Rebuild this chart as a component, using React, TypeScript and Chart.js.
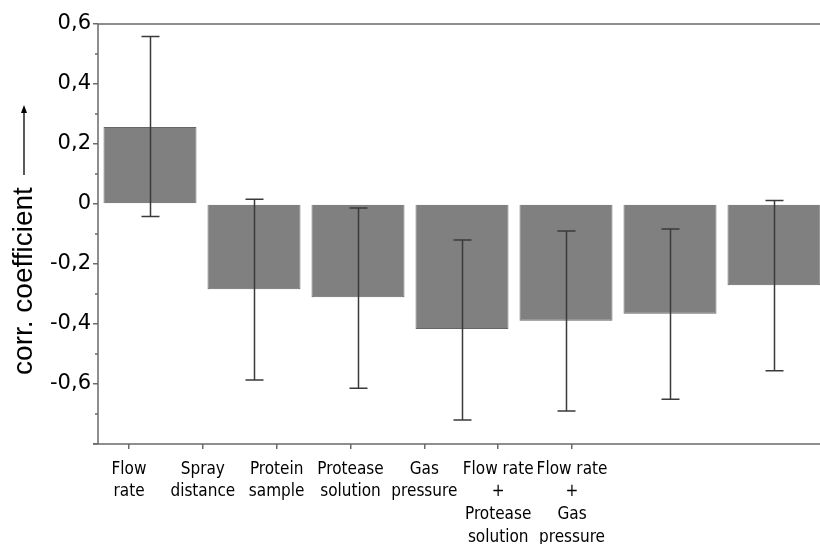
import { useEffect, useRef } from 'react';
import { Chart, registerables } from 'chart.js';

Chart.register(...registerables);

const categories: string[][] = [
  ['Flow', 'rate'],
  ['Spray', 'distance'],
  ['Protein', 'sample'],
  ['Protease', 'solution'],
  ['Gas', 'pressure'],
  ['Flow rate', '+', 'Protease', 'solution'],
  ['Flow rate', '+', 'Gas', 'pressure'],
];
const coefficients = [0.257, -0.284, -0.311, -0.417, -0.389, -0.366, -0.271];
const errorHigh = [0.558, 0.016, -0.013, -0.12, -0.09, -0.083, 0.012];
const errorLow = [-0.042, -0.587, -0.614, -0.72, -0.69, -0.651, -0.556];
const yTickValues = [0.6, 0.4, 0.2, 0, -0.2, -0.4, -0.6, -0.8];
const yTickLabels = ['0,6', '0,4', '0,2', '0', '-0,2', '-0,4', '-0,6', ''];
const yMinorTicks = [0.5, 0.3, 0.1, -0.1, -0.3, -0.5, -0.7];
const yTitle = 'corr. coefficient';

const AXIS = '#6a6a6a';

const decorPlugin = {
  id: 'decor',
  afterDatasetsDraw(chart: any) {
    const { ctx, scales } = chart;
    const y = scales.y;
    const meta = chart.getDatasetMeta(0);
    ctx.save();
    ctx.strokeStyle = '#3a3a3a';
    ctx.lineWidth = 1.5;
    meta.data.forEach((bar: any, i: number) => {
      const x = Math.round(bar.x) + 0.5;
      const yh = y.getPixelForValue(errorHigh[i]);
      const yl = y.getPixelForValue(errorLow[i]);
      ctx.beginPath();
      ctx.moveTo(x, yh);
      ctx.lineTo(x, yl);
      ctx.stroke();
      ctx.beginPath();
      ctx.moveTo(x - 9, yh);
      ctx.lineTo(x + 9, yh);
      ctx.moveTo(x - 9, yl);
      ctx.lineTo(x + 9, yl);
      ctx.stroke();
    });
    ctx.restore();
  },
  afterDraw(chart: any) {
    const { ctx, chartArea, scales } = chart;
    const y = scales.y;
    const { left, right, top, bottom } = chartArea;
    ctx.save();
    ctx.strokeStyle = AXIS;
    ctx.lineWidth = 1.5;
    ctx.beginPath();
    ctx.moveTo(left, top);
    ctx.lineTo(right, top);
    ctx.moveTo(left, top);
    ctx.lineTo(left, bottom);
    ctx.moveTo(left - 5, bottom);
    ctx.lineTo(right, bottom);
    yMinorTicks.forEach((v) => {
      const py = y.getPixelForValue(v);
      ctx.moveTo(left - 3, py);
      ctx.lineTo(left, py);
    });
    ctx.stroke();

    // rotated axis title with arrow
    ctx.fillStyle = '#000';
    ctx.strokeStyle = '#000';
    ctx.font = '28px "Liberation Sans", Arial, sans-serif';
    const w = ctx.measureText(yTitle).width;
    const gap = 12;
    const arrowLen = 70;
    const total = w + gap + arrowLen;
    const cy = (top + bottom) / 2 + 6;
    ctx.translate(24, cy);
    ctx.rotate(-Math.PI / 2);
    const sx = -total / 2;
    ctx.textAlign = 'left';
    ctx.textBaseline = 'middle';
    ctx.fillText(yTitle, sx, 0);
    ctx.lineWidth = 1.3;
    ctx.beginPath();
    ctx.moveTo(sx + w + gap, 0);
    ctx.lineTo(sx + total - 6, 0);
    ctx.stroke();
    ctx.beginPath();
    ctx.moveTo(sx + total, 0);
    ctx.lineTo(sx + total - 8, -3);
    ctx.lineTo(sx + total - 8, 3);
    ctx.closePath();
    ctx.fill();
    ctx.restore();
  },
};

export default function App() {
  const ref = useRef<HTMLCanvasElement>(null);
  useEffect(() => {
    if (!ref.current) return;
    const chart = new Chart(ref.current, {
      type: 'bar',
      data: {
        labels: categories.map((c) => c.join(' ')),
        datasets: [
          {
            data: coefficients,
            backgroundColor: '#808080',
            borderColor: '#666666',
            borderWidth: 1,
            barPercentage: 0.894,
            categoryPercentage: 1,
            xAxisID: 'x',
            yAxisID: 'y',
          },
        ],
      },
      options: {
        responsive: false,
        animation: false,
        layout: { padding: { top: 24, right: 4, left: 0, bottom: 0 } },
        plugins: { legend: { display: false }, tooltip: { enabled: false } },
        scales: {
          x: { type: 'category', display: false, offset: true },
          xl: {
            type: 'linear',
            position: 'bottom',
            offset: false,
            min: -0.42,
            max: 9.44,
            afterBuildTicks: (s: any) => {
              s.ticks = categories.map((_, i) => ({ value: i }));
            },
            afterFit: (s: any) => {
              s.height = 100;
            },
            grid: { offset: false, drawOnChartArea: false, drawTicks: true, tickLength: 5, color: AXIS, lineWidth: 1.5 },
            border: { display: false },
            ticks: {
              autoSkip: false,
              maxRotation: 0,
              minRotation: 0,
              padding: 9,
              color: '#000',
              font: { family: '"Liberation Sans Narrow", "DejaVu Sans Condensed", "Liberation Sans", Arial, sans-serif', size: 17, lineHeight: 1.33 },
              callback: (v: any) => categories[v] ?? '',
            },
          },
          y: {
            type: 'linear',
            min: -0.8,
            max: 0.6,
            afterBuildTicks: (s: any) => {
              s.ticks = yTickValues.map((v) => ({ value: v }));
            },
            afterFit: (s: any) => {
              s.width = 98;
            },
            grid: { drawOnChartArea: false, drawTicks: true, tickLength: 5, color: AXIS, lineWidth: 1.5 },
            border: { display: false },
            ticks: {
              padding: 2,
              color: '#000',
              font: { family: '"DejaVu Sans", "Liberation Sans", Arial, sans-serif', size: 21 },
              callback: (v: any) => {
                const i = yTickValues.indexOf(v);
                return i >= 0 ? yTickLabels[i] : '';
              },
            },
          },
        },
      },
      plugins: [decorPlugin],
    } as any);
    return () => chart.destroy();
  }, []);
  return (
    <div style={{ position: 'fixed', left: 0, top: 0, width: 820, height: 544, overflow: 'hidden', background: '#fff' }}>
      <canvas ref={ref} width={830} height={544} style={{ display: 'block' }} />
    </div>
  );
}
